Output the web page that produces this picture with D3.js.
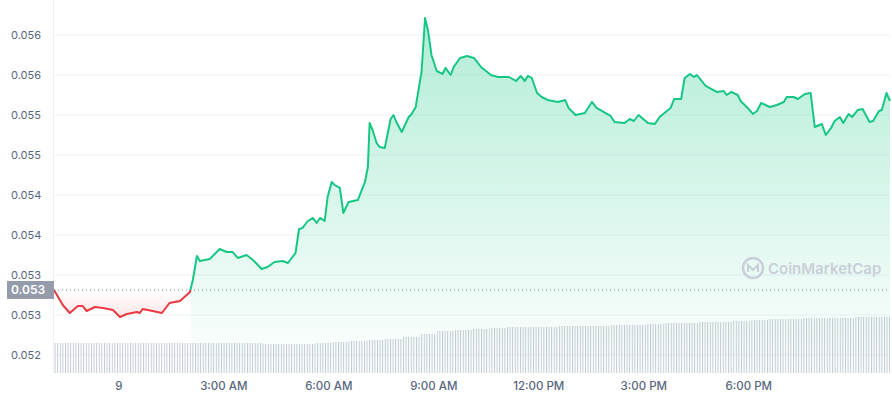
<!DOCTYPE html>
<html><head><meta charset="utf-8">
<script src="https://cdn.jsdelivr.net/npm/d3@7"></script>
<style>body{margin:0;background:#fff}text{font-family:Inter,"Noto Sans",sans-serif}</style>
</head><body><svg id="c" width="892" height="400"></svg>
<script>
// minutes from midnight, price
const times = [-111,-96,-84,-70,-62,-55,-41,-27,-10,2,14,31,36,41,58,74,87,105,122,127,134,139,156,173,185,195,204,219,230,245,255,267,281,290,303,309,315,324,333,339,345,353,358,365,370,379,385,394,410,422,427,430,435,442,447,456,466,471,475,485,497,502,509,519,525,530,536,545,555,560,569,574,585,597,609,621,638,650,669,681,689,696,701,708,717,725,735,753,765,771,783,799,811,819,843,850,867,876,883,891,907,919,927,946,952,964,970,979,986,991,1006,1025,1037,1042,1050,1061,1066,1078,1087,1094,1101,1116,1128,1140,1145,1157,1164,1176,1186,1193,1205,1212,1221,1227,1236,1242,1251,1257,1267,1275,1287,1293,1303,1308,1316,1322];
const prices = [0.053013,0.052825,0.052725,0.052813,0.052813,0.05275,0.0528,0.052788,0.052763,0.052675,0.052713,0.052738,0.052725,0.052775,0.05275,0.052725,0.05285,0.052875,0.052988,0.053138,0.053438,0.053375,0.0534,0.053525,0.053488,0.053488,0.053413,0.05345,0.053388,0.053275,0.0533,0.053363,0.053375,0.05335,0.053475,0.053775,0.053788,0.053875,0.053913,0.05385,0.053913,0.053875,0.054175,0.054363,0.054325,0.054288,0.053975,0.054113,0.054138,0.054363,0.05455,0.0551,0.055013,0.05485,0.0548,0.054788,0.05515,0.0552,0.055125,0.054988,0.055175,0.055213,0.0553,0.055738,0.056413,0.056263,0.05595,0.05575,0.055713,0.055788,0.0557,0.0558,0.055913,0.055938,0.055913,0.0558,0.0557,0.055675,0.055675,0.055625,0.055688,0.055625,0.055688,0.055663,0.055475,0.055425,0.055388,0.055363,0.055388,0.055288,0.0552,0.055225,0.055363,0.055288,0.055188,0.055113,0.0551,0.05515,0.055125,0.0552,0.0551,0.055088,0.055175,0.055288,0.0554,0.0554,0.055663,0.055713,0.055675,0.0557,0.055563,0.055488,0.0555,0.05545,0.055488,0.05545,0.055375,0.055288,0.055213,0.05525,0.05535,0.0553,0.055325,0.055363,0.055425,0.055425,0.0554,0.055463,0.055475,0.05505,0.055088,0.05495,0.055038,0.055125,0.055175,0.0551,0.055213,0.055175,0.055263,0.055275,0.055113,0.055125,0.05525,0.055263,0.055475,0.055375];
const volumes = [30,30,30,30,30,30,30,30,30,30,30,30,29,29,29,30,31,32,33,34,36,39,42,43,44,45,46,46,46,47,47,47,48,48,49,50,50,51,51,52,53,54,54,55,55,55,56,56];
const yTicks = [0.0522,0.0527,0.0532,0.0537,0.0542,0.0547,0.0552,0.0557,0.0562];
const xTicks = [0,180,360,540,720,900,1080];
const xTickLabels = ["9","3:00 AM","6:00 AM","9:00 AM","12:00 PM","3:00 PM","6:00 PM"];
const basePrice = prices[0];

const data = times.map((t,i)=>({t,p:prices[i]}));
const svg = d3.select("#c");
const L=54,R=890,B=373;
const x = d3.scaleLinear().domain([times[0],times[times.length-1]]).range([L,R]);
const y = d3.scaleLinear().domain([0.0522,0.0562]).range([355,35]);
const yb = y(basePrice);
const defs = svg.append("defs");
const gG = defs.append("linearGradient").attr("id","gg").attr("gradientUnits","userSpaceOnUse").attr("x1",0).attr("x2",0).attr("y1",18).attr("y2",B);
gG.append("stop").attr("offset","0%").attr("stop-color","#16c784").attr("stop-opacity",0.33);
gG.append("stop").attr("offset","100%").attr("stop-color","#16c784").attr("stop-opacity",0.0);
const gR = defs.append("linearGradient").attr("id","gr").attr("gradientUnits","userSpaceOnUse").attr("x1",0).attr("x2",0).attr("y1",yb).attr("y2",yb+30);
gR.append("stop").attr("offset","0%").attr("stop-color","#ea3943").attr("stop-opacity",0.0);
gR.append("stop").attr("offset","100%").attr("stop-color","#ea3943").attr("stop-opacity",0.14);
defs.append("clipPath").attr("id","ca").append("rect").attr("x",0).attr("y",0).attr("width",892).attr("height",yb);
defs.append("clipPath").attr("id","cb").append("rect").attr("x",0).attr("y",yb).attr("width",892).attr("height",400);
defs.append("clipPath").attr("id","cg").append("rect").attr("x",x(124)).attr("y",0).attr("width",892).attr("height",B);
const pat = defs.append("pattern").attr("id","vp").attr("patternUnits","userSpaceOnUse").attr("width",2.6).attr("height",10);
pat.append("rect").attr("width",1).attr("height",10).attr("fill","#c3c9d3");

// grid
svg.append("g").selectAll("line").data(yTicks).join("line")
  .attr("x1",L).attr("x2",R).attr("y1",d=>y(d)).attr("y2",d=>y(d)).attr("stroke","#eff2f5");
svg.append("g").selectAll("text").data(yTicks).join("text")
  .attr("x",11).attr("y",d=>y(d)+4).attr("font-size",11).attr("fill","#58667e").text(d3.format(".3f"));

// volume
const v = d3.scaleLinear().domain([0,60]).range([B,B-60]);
const bw=(R-L)/volumes.length;
svg.append("g").selectAll("rect").data(volumes).join("rect")
  .attr("x",(d,i)=>L+i*bw).attr("width",bw).attr("y",d=>v(d)).attr("height",d=>B-v(d)).attr("fill","url(#vp)");

// areas
svg.append("path").datum(data).attr("clip-path","url(#cg)").attr("fill","url(#gg)")
  .attr("d",d3.area().x(d=>x(d.t)).y0(B).y1(d=>y(d.p)));
svg.append("path").datum(data).attr("clip-path","url(#cb)").attr("fill","url(#gr)")
  .attr("d",d3.area().x(d=>x(d.t)).y0(yb).y1(d=>y(d.p)));
// baseline
svg.append("line").attr("x1",L).attr("x2",R).attr("y1",yb).attr("y2",yb)
  .attr("stroke","#7d8593").attr("stroke-dasharray","1,3");
const line = d3.line().x(d=>x(d.t)).y(d=>y(d.p));
svg.append("path").datum(data).attr("clip-path","url(#ca)").attr("fill","none").attr("stroke","#16c784").attr("stroke-width",2).attr("stroke-linejoin","round").attr("d",line);
svg.append("path").datum(data).attr("clip-path","url(#cb)").attr("fill","none").attr("stroke","#ea3943").attr("stroke-width",2).attr("stroke-linejoin","round").attr("d",line);

svg.append("line").attr("x1",L-0.5).attr("x2",L-0.5).attr("y1",0).attr("y2",B).attr("stroke","#eff2f5");
// base label
svg.append("rect").attr("x",7).attr("y",yb-9).attr("width",L-7).attr("height",18).attr("fill","#949cab");
svg.append("text").attr("x",11).attr("y",yb+4.5).attr("font-size",12).attr("font-weight",600).attr("fill","#fff").text(d3.format(".3f")(basePrice));

// x axis
svg.append("g").selectAll("text").data(xTicks).join("text")
  .attr("x",d=>x(d)).attr("y",390).attr("text-anchor","middle").attr("font-size",11.5).attr("font-weight",500).attr("fill","#58667e").text((d,i)=>xTickLabels[i]);

// watermark
const wm = svg.append("g").attr("transform","translate(753,268)");
wm.append("circle").attr("r",10).attr("fill","none").attr("stroke","#c9cfd8").attr("stroke-width",2.5);
wm.append("path").attr("d","M-5,4 L-5,-3 L0,2 L5,-3 L5,4").attr("fill","none").attr("stroke","#c9cfd8").attr("stroke-width",2);
wm.append("text").attr("x",15).attr("y",5.5).attr("font-size",15).attr("font-weight",600).attr("fill","#c9cfd8").text("CoinMarketCap");
</script></body></html>
